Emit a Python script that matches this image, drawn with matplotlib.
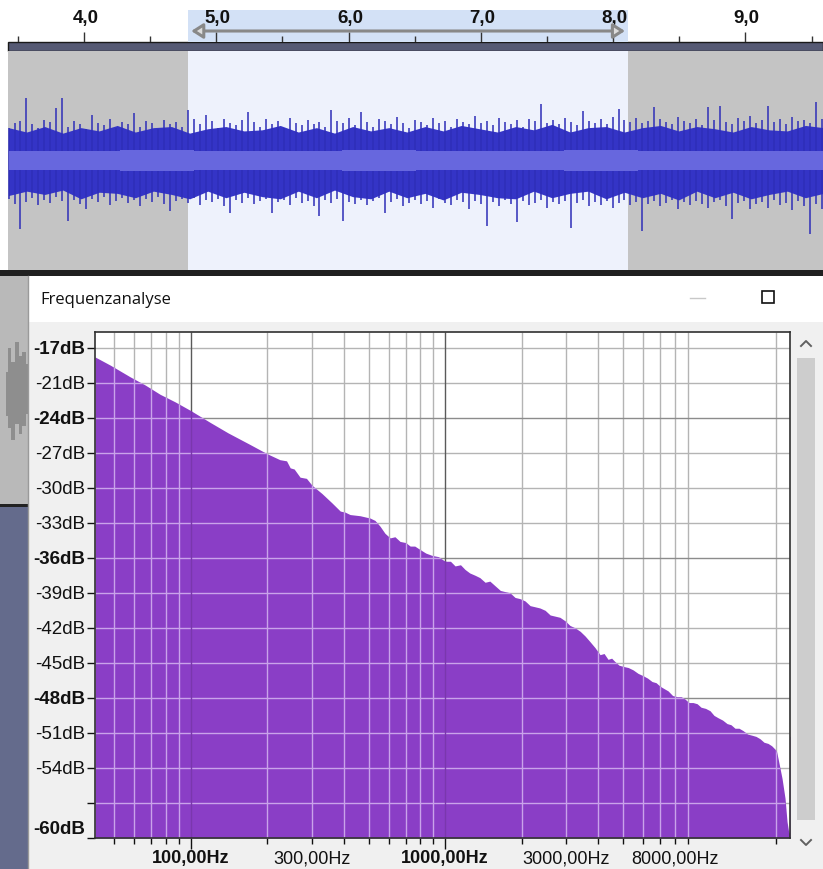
import numpy as np
import matplotlib
matplotlib.use("Agg")
import matplotlib.pyplot as plt
from matplotlib.patches import Rectangle

plt.rcParams['font.family'] = ['Liberation Sans', 'DejaVu Sans']

# =========================
# DATA
# =========================
# ruler / selection (seconds)
ruler_major = [4, 5, 6, 7, 8, 9]
ruler_labels = ["4,0", "5,0", "6,0", "7,0", "8,0", "9,0"]
ruler_minor = [3.5, 4.5, 5.5, 6.5, 7.5, 8.5, 9.5]
t_start, t_end = 3.426, 9.586
sel_start, sel_end = 4.79, 8.11

# waveform peaks (positive / negative magnitude), one per column
wave_top = [0.30, 0.34, 0.36, 0.57, 0.33, 0.30, 0.37, 0.35, 0.48, 0.57,
            0.31, 0.36, 0.33, 0.29, 0.42, 0.34, 0.32, 0.38, 0.30, 0.35,
            0.33, 0.43, 0.31, 0.36, 0.34, 0.29, 0.37, 0.33, 0.35, 0.31,
            0.46, 0.38, 0.33, 0.42, 0.36, 0.30, 0.38, 0.34, 0.32, 0.37,
            0.44, 0.35, 0.31, 0.38, 0.33, 0.36, 0.30, 0.39, 0.34, 0.32,
            0.37, 0.33, 0.35, 0.31, 0.46, 0.36, 0.34, 0.39, 0.32, 0.44,
            0.35, 0.31, 0.38, 0.36, 0.33, 0.40, 0.34, 0.30, 0.37, 0.35,
            0.32, 0.39, 0.34, 0.36, 0.31, 0.38, 0.35, 0.33, 0.41, 0.34,
            0.36, 0.32, 0.39, 0.35, 0.33, 0.37, 0.31, 0.38, 0.36, 0.52,
            0.34, 0.37, 0.33, 0.39, 0.35, 0.32, 0.45, 0.36, 0.34, 0.38,
            0.33, 0.40, 0.47, 0.37, 0.35, 0.39, 0.34, 0.36, 0.49, 0.38,
            0.35, 0.33, 0.40, 0.36, 0.34, 0.38, 0.32, 0.49, 0.37, 0.50,
            0.35, 0.33, 0.39, 0.36, 0.41, 0.34, 0.37, 0.50, 0.35, 0.38,
            0.33, 0.40, 0.36, 0.37, 0.34, 0.53, 0.38]
wave_bot = [0.35, 0.40, 0.63, 0.38, 0.34, 0.41, 0.36, 0.39, 0.33, 0.37,
            0.55, 0.36, 0.40, 0.44, 0.35, 0.38, 0.33, 0.41, 0.37, 0.34,
            0.39, 0.36, 0.42, 0.35, 0.38, 0.33, 0.40, 0.46, 0.37, 0.35,
            0.39, 0.34, 0.41, 0.36, 0.38, 0.35, 0.42, 0.48, 0.36, 0.39,
            0.34, 0.40, 0.37, 0.35, 0.48, 0.38, 0.36, 0.41, 0.34, 0.39,
            0.37, 0.42, 0.51, 0.36, 0.39, 0.35, 0.55, 0.38, 0.40, 0.36,
            0.41, 0.37, 0.34, 0.48, 0.38, 0.35, 0.42, 0.39, 0.36, 0.40,
            0.37, 0.43, 0.35, 0.39, 0.41, 0.36, 0.38, 0.44, 0.37, 0.40,
            0.60, 0.38, 0.42, 0.36, 0.40, 0.56, 0.37, 0.41, 0.39, 0.36,
            0.43, 0.38, 0.40, 0.37, 0.62, 0.39, 0.36, 0.42, 0.38, 0.41,
            0.37, 0.43, 0.39, 0.36, 0.41, 0.38, 0.64, 0.40, 0.37, 0.42,
            0.39, 0.36, 0.44, 0.38, 0.41, 0.37, 0.40, 0.43, 0.38, 0.36,
            0.42, 0.53, 0.39, 0.37, 0.44, 0.40, 0.38, 0.43, 0.36, 0.41,
            0.39, 0.45, 0.37, 0.42, 0.67, 0.40, 0.44]
# dense body of the waveform
body_top = [0.30, 0.26, 0.31, 0.25, 0.30, 0.27, 0.32, 0.26, 0.30, 0.31, 0.25, 0.29,
            0.31, 0.27, 0.28, 0.32, 0.26, 0.30, 0.25, 0.31, 0.27, 0.30, 0.26, 0.31,
            0.27, 0.32, 0.29, 0.26, 0.31, 0.28, 0.33, 0.26, 0.30, 0.31, 0.26, 0.30,
            0.32, 0.27, 0.31, 0.29, 0.26, 0.31, 0.28, 0.27, 0.32, 0.30]
body_bot = [0.32, 0.28, 0.31, 0.27, 0.35, 0.29, 0.30, 0.34, 0.28, 0.31, 0.35, 0.28,
            0.34, 0.29, 0.33, 0.35, 0.28, 0.34, 0.27, 0.33, 0.35, 0.28, 0.34, 0.30,
            0.36, 0.29, 0.31, 0.34, 0.35, 0.28, 0.34, 0.30, 0.28, 0.35, 0.29, 0.34,
            0.30, 0.36, 0.28, 0.34, 0.29, 0.35, 0.31, 0.28, 0.34, 0.30]
rms = [0.090, 0.085, 0.095, 0.090, 0.088, 0.092, 0.090, 0.087, 0.093, 0.090, 0.088, 0.091]

# ghost track behind the window (left strip)
ghost_top = [0.25, 0.55, 0.38, 0.62, 0.45, 0.5, 0.35]
ghost_bot = [0.3, 0.45, 0.6, 0.4, 0.52, 0.42, 0.28]

# spectrum (Hz, dB)
freqs = [42, 48.2, 57.7, 66.1, 75.7, 86.8, 100, 119, 140, 171, 200, 224, 238, 246,
         255, 269, 285, 300, 328, 359, 387, 405, 423, 463, 507, 530, 555, 580, 608,
         635, 665, 700, 729, 760, 798, 840, 889, 940, 1000, 1050, 1095, 1150, 1198,
         1250, 1312, 1370, 1437, 1500, 1573, 1650, 1722, 1800, 1885, 1970, 2064,
         2160, 2259, 2360, 2474, 2590, 2707, 2830, 2965, 3100, 3245, 3400, 3553,
         3720, 3889, 4070, 4220, 4375, 4520, 4662, 4830, 5011, 5250, 5487, 5740,
         6006, 6250, 6517, 6760, 7005, 7260, 7533, 7850, 8173, 8480, 8785, 9100,
         9445, 9800, 10155, 10580, 11017, 11420, 11844, 12340, 12850, 13320, 13812,
         14320, 14852, 15480, 16117, 16710, 17326, 17960, 18627, 19250, 19859, 20130,
         20405, 21153, 21732, 22130, 22433, 22620, 22660, 22730]
dbs = [-18.8, -19.5, -20.5, -21.2, -22.0, -22.65, -23.4, -24.4, -25.3, -26.3, -27.1,
       -27.6, -27.7, -28.3, -28.4, -29.1, -29.2, -29.8, -30.5, -31.3, -32.0, -32.1,
       -32.3, -32.4, -32.6, -32.8, -33.3, -33.9, -34.3, -34.2, -34.6, -34.7, -35.0,
       -35.0, -35.3, -35.6, -35.8, -35.9, -36.3, -36.3, -36.7, -36.6, -37.0, -37.3,
       -37.5, -37.7, -38.1, -38.0, -38.4, -38.8, -38.9, -39.0, -39.4, -39.5, -39.7,
       -40.1, -40.2, -40.3, -40.5, -40.9, -41.0, -41.1, -41.4, -41.8, -42.0, -42.3,
       -42.7, -43.2, -43.7, -44.3, -44.2, -44.7, -44.6, -44.9, -45.2, -45.3, -45.4,
       -45.6, -45.9, -46.1, -46.3, -46.6, -46.7, -47.0, -47.2, -47.4, -47.8, -47.9,
       -47.9, -48.1, -48.4, -48.4, -48.5, -48.8, -48.9, -49.1, -49.5, -49.7, -49.9,
       -50.2, -50.3, -50.6, -50.6, -50.8, -51.1, -51.2, -51.3, -51.5, -51.8, -51.9,
       -52.1, -52.4, -52.6, -53.2, -54.9, -56.6, -58.6, -59.4, -59.6, -51.3, -51.3]

# spectrum axis
freq_major = [100, 1000]
freq_major_labels = ["100,00Hz", "1000,00Hz"]
freq_minor = [50, 60, 70, 80, 90, 200, 300, 400, 500, 600, 700, 800, 900,
              2000, 3000, 4000, 5000, 6000, 7000, 8000, 9000, 20000]
freq_minor_labels = {300: "300,00Hz", 3000: "3000,00Hz", 8000: "8000,00Hz"}
db_ticks = [-18, -21, -24, -27, -30, -33, -36, -39, -42, -45, -48, -51, -54, -57, -60]
db_labels = ["-17dB", "-21dB", "-24dB", "-27dB", "-30dB", "-33dB", "-36dB", "-39dB",
             "-42dB", "-45dB", "-48dB", "-51dB", "-54dB", "", "-60dB"]
db_bold = ["-17dB", "-24dB", "-36dB", "-48dB", "-60dB"]
db_major = [-24, -36, -48]

# =========================
# FIGURE
# =========================
W, H = 823, 869
fig = plt.figure(figsize=(W / 100, H / 100), dpi=100)
fig.patch.set_facecolor("white")


def px_axes(x0, y0, x1, y1):
    # pixel box (top-left origin) -> figure axes
    return fig.add_axes([x0 / W, 1 - y1 / H, (x1 - x0) / W, (y1 - y0) / H])


# background / window chrome
bg = px_axes(0, 0, W, H)
bg.set_xlim(0, W)
bg.set_ylim(H, 0)
bg.axis("off")

bg.add_patch(Rectangle((8, 42), W - 8, 9, facecolor="#565a74", edgecolor="#1a1a1a", lw=1))
bg.add_patch(Rectangle((0, 270), W, 6, facecolor="#202020", lw=0))
bg.add_patch(Rectangle((0, 276), 28, 230, facecolor="#b9b9b9", lw=0))
bg.add_patch(Rectangle((0, 504), 28, 3, facecolor="#222222", lw=0))
bg.add_patch(Rectangle((0, 507), 28, H - 507, facecolor="#646b8c", lw=0))
gx = np.linspace(6, 28, len(ghost_top))
bg.fill_between(gx, [392 - 80 * v for v in ghost_top], [392 + 80 * v for v in ghost_bot],
                step="mid", color="#8e8e8e", lw=0)
# window
bg.add_patch(Rectangle((28, 276), W - 28, 46, facecolor="white", lw=0))
bg.add_patch(Rectangle((28, 322), W - 28, H - 322, facecolor="#f0f0f0", lw=0))
bg.plot([28, 28], [276, H], color="#9a9a9a", lw=1)
bg.text(40, 300, "Frequenzanalyse", fontsize=12, family=["Open Sans", "DejaVu Sans"],
        va="center", ha="left", color="#111111")
bg.plot([690, 705], [298, 298], color="#c8c8c8", lw=1)
bg.add_patch(Rectangle((762, 291), 12, 12, facecolor="none", edgecolor="#111111", lw=1.2))
# scrollbar
bg.add_patch(Rectangle((797, 358), 18, 462, facecolor="#cdcdcd", lw=0))
bg.plot([801, 806, 811], [346, 341, 346], color="#606060", lw=1.4)
bg.plot([801, 806, 811], [840, 845, 840], color="#606060", lw=1.4)

# =========================
# RULER
# =========================
ru = px_axes(8, 0, W, 42)
ru.set_xlim(t_start, t_end)
ru.set_ylim(42, 0)
ru.axis("off")
ru.axvspan(sel_start, sel_end, ymin=0, ymax=32 / 42, color="#d3e1f6", lw=0)
ru.vlines(ruler_major, 32, 42, color="#333333", lw=1)
ru.vlines(ruler_minor, 36, 42, color="#333333", lw=1)
for t, lab in zip(ruler_major, ruler_labels):
    ru.text(t + 0.01, 18, lab, ha="center", va="center", fontsize=13.5, fontweight="bold",
            color="#111111")
ru.annotate("", xy=(sel_start, 31), xytext=(sel_end, 31),
            arrowprops=dict(arrowstyle="<|-|>,head_length=0.7,head_width=0.45",
                            fc="#dcdcdc", ec="#888888", lw=2.2))

# =========================
# WAVEFORM
# =========================
wv = px_axes(8, 51, W, 270)
wv.set_xlim(t_start, t_end)
wv.set_ylim(-1, 1)
wv.axis("off")
wv.add_patch(Rectangle((t_start, -1), t_end - t_start, 2, facecolor="#c4c4c4", lw=0, zorder=0))
wv.axvspan(sel_start, sel_end, color="#eef2fc", lw=0, zorder=0)

t_cols = 3.43 + np.arange(len(wave_top)) * 0.0452
t_body = np.linspace(3.43, 9.59, len(body_top))
t_rms = np.linspace(3.43, 9.59, len(rms))
wave_blue = "#3434c6"
wv.fill_between(t_body, body_top, [-v for v in body_bot], color=wave_blue, lw=0, zorder=1)
wv.vlines(t_cols, [-v for v in wave_bot], wave_top, color="#2e2eb8", lw=1.1, zorder=2)
wv.fill_between(t_rms, rms, [-v for v in rms], step="mid", color="#6767de", lw=0, zorder=3)

# =========================
# SPECTRUM
# =========================
sp = px_axes(95, 331.7, 790, 838)
sp.set_facecolor("white")
sp.set_xscale("log")
sp.set_xlim(42, 22730)
sp.set_ylim(-60, -16.64)

purple = "#8a3ec6"
sp.vlines(freq_minor, -60, -16.64, color="#b4b4b4", lw=1, zorder=1)
sp.hlines([d for d in db_ticks if d not in db_major], 42, 22730, color="#b4b4b4", lw=1, zorder=1)
sp.hlines(db_major, 42, 22730, color="#8c8c8c", lw=1, zorder=1)
sp.vlines(freq_major, -60, -16.64, color="#5a5a5a", lw=1, zorder=1)

poly = sp.fill_between(freqs, dbs, -60, color=purple, lw=0, zorder=2)
clip = poly.get_paths()[0]
lg1 = sp.vlines(freq_minor, -60, -16.64, color="#c9a3ea", lw=1, zorder=3)
lg2 = sp.hlines(db_ticks, 42, 22730, color="#c9a3ea", lw=1, zorder=3)
lg3 = sp.vlines(freq_major, -60, -16.64, color="#7a37ad", lw=1, zorder=3)
for ln in (lg1, lg2, lg3):
    ln.set_clip_path(clip, poly.get_transform())

for s in sp.spines.values():
    s.set_color("#303030")
    s.set_linewidth(1.2)
    s.set_zorder(5)

sp.set_xticks(freq_major, labels=freq_major_labels)
sp.set_xticks(freq_minor, labels=[freq_minor_labels.get(f, "") for f in freq_minor], minor=True)
sp.tick_params(axis="x", which="major", length=8, width=1, pad=1, labelsize=13, colors="#111111")
sp.tick_params(axis="x", which="minor", length=4, width=1, pad=5, labelsize=13, colors="#111111")
for lab in sp.get_xticklabels():
    lab.set_fontweight("bold")

sp.set_yticks(db_ticks, labels=db_labels)
sp.tick_params(axis="y", which="major", length=6, width=1, pad=1, labelsize=13.5, colors="#111111")
sp.yaxis.set_minor_locator(plt.NullLocator())
for lab in sp.get_yticklabels():
    if lab.get_text() in db_bold:
        lab.set_fontweight("bold")
    if lab.get_text() == "-60dB":
        lab.set_verticalalignment("bottom")

fig.savefig("out.png", dpi=100)
